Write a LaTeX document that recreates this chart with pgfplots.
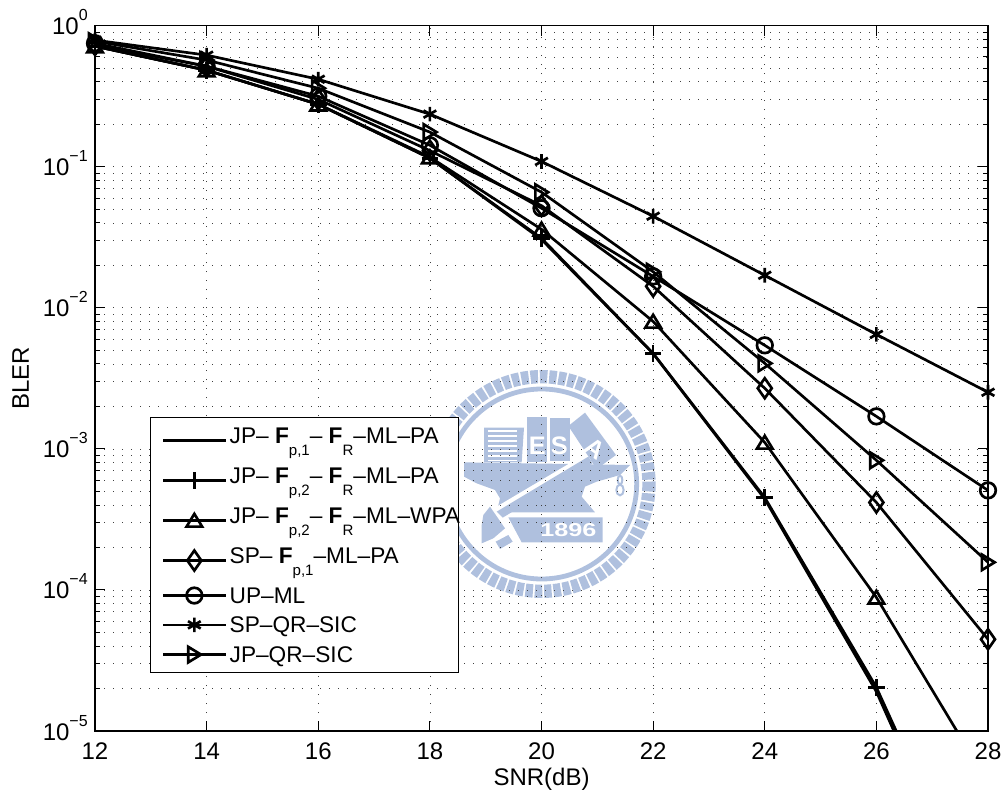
\documentclass[border=0pt]{standalone}
\usepackage{fontspec}
\setmainfont{Liberation Sans}
\usepackage{pgfplots}
\pgfplotsset{compat=1.18}
\definecolor{logo}{HTML}{AFC0DE}
\pgfdeclareplotmark{mtri}{\pgfpathmoveto{\pgfqpoint{0pt}{5pt}}\pgfpathlineto{\pgfqpoint{5.85pt}{-4.6pt}}\pgfpathlineto{\pgfqpoint{-5.85pt}{-4.6pt}}\pgfpathclose\pgfusepathqstroke}
\pgfdeclareplotmark{mrtri}{\pgfpathmoveto{\pgfqpoint{5pt}{0pt}}\pgfpathlineto{\pgfqpoint{-4.6pt}{5.85pt}}\pgfpathlineto{\pgfqpoint{-4.6pt}{-5.85pt}}\pgfpathclose\pgfusepathqstroke}
\pgfdeclareplotmark{mdia}{\pgfpathmoveto{\pgfqpoint{0pt}{7.5pt}}\pgfpathlineto{\pgfqpoint{5.25pt}{0pt}}\pgfpathlineto{\pgfqpoint{0pt}{-7.5pt}}\pgfpathlineto{\pgfqpoint{-5.25pt}{0pt}}\pgfpathclose\pgfusepathqstroke}
\newcommand{\sub}[1]{\raisebox{-0.49em}{\fontsize{11.3}{12}\selectfont #1}}
\newcommand{\rowh}[2]{\rule[-#2]{0pt}{\dimexpr #1+#2\relax}}
\newcommand{\tenp}[1]{10\raisebox{10.5pt}{\fontsize{12}{12}\selectfont #1}}
\begin{document}
\begin{tikzpicture}
\useasboundingbox (0,0) rectangle (753.75pt,597pt);
\begin{scope}[x=0.25pt,y=-0.25pt,shift={(337.5pt,323.25pt)}]
\fill[logo] (42,292)--(540,300)--(510,330)--(440,350)--(405,365)--(395,395)--(435,442)--(140,442)--(150,400)--(135,375)--(80,355)--(42,335)--cycle;
\draw[white,line width=7pt] (125,450)--(425,272);
\fill[logo] (140,440)--(415,275)--(428,295)--(158,458)--cycle;
\fill[logo] (120,425)--(165,490)--(130,520)--(95,535)--(95,480)--(100,450)--cycle;
\fill[logo] (137,530)--(175,510)--(188,530)--(150,552)--cycle;
\fill[logo] (175,457)--(458,457)--(458,532)--(215,532)--cycle;
\node[text=white,font=\bfseries\fontsize{14}{14}\selectfont,xscale=1.35] at (355,494) {1896};
\fill[logo] (102,188)--(222,188)--(215,292)--(102,292)--cycle;
\foreach \yy in {198,213,228,243,258,273,287}{\draw[white,line width=0.8pt] (115,\yy)--(202,\yy);}
\fill[logo] (230,155)--(290,155)--(290,292)--(230,292)--cycle;
\fill[logo] (300,160)--(360,160)--(360,288)--(300,288)--cycle;
\node[text=white,font=\bfseries\fontsize{19}{19}\selectfont] at (262,242) {E};
\node[text=white,font=\bfseries\fontsize{19}{19}\selectfont] at (328,242) {S};
\fill[logo] (405,143)--(498,270)--(440,312)--(355,183)--cycle;
\node[text=white,font=\bfseries\fontsize{19}{19}\selectfont,rotate=-35] at (435,250) {A};
\draw[logo,line width=1.5pt] (510,345) ellipse (7 and 13) (510,375) ellipse (11 and 16);
\draw[logo,line width=3.6pt] (275,357) circle (285);
\draw[logo,line width=10pt,dash pattern=on 5.6pt off 1.4pt] (275,357) circle (322);
\end{scope}
\begin{semilogyaxis}[
  at={(71.25pt,48.75pt)},anchor=south west,
  scale only axis,width=669.75pt,height=529pt,
  xmin=12,xmax=28,ymin=1e-5,ymax=1,
  xtick={12,14,...,28},
  ytickten={-5,-4,-3,-2,-1,0},
  yticklabels={\tenp{−5},\tenp{−4},\tenp{−3},\tenp{−2},\tenp{−1},\tenp{0}},
  /pgf/number format/assume math mode=true,
  tick label style={font=\fontsize{18}{20}\selectfont},
  label style={font=\fontsize{18}{20}\selectfont},
  xlabel={SNR(dB)},ylabel={BLER},
  xlabel style={at={(axis description cs:0.5,0)},anchor=base,yshift=-41pt},
  ylabel style={at={(axis description cs:0,0.5)},anchor=base,yshift=49.5pt},
  xticklabel style={anchor=base,inner sep=0pt,yshift=-21pt},
  yticklabel style={anchor=base east,inner sep=0pt,xshift=-5.25pt,yshift=-6.75pt},
  tick align=inside,
  major tick length=7.5pt,minor tick length=3.75pt,
  tick style={black,line width=0.7pt},
  axis line style={line width=0.9pt},
  xmajorgrids,ymajorgrids,yminorgrids,
  major grid style={black!75,line width=0.5pt,dash pattern=on 0.6pt off 6.15pt},
  minor grid style={black!75,line width=0.5pt,dash pattern=on 0.6pt off 6.15pt},
  legend cell align=left,
  legend style={at={(axis description cs:0.0616,0.445)},anchor=north west,draw=black,line width=0.9pt,fill=white,
    font=\fontsize{17}{18}\selectfont,inner xsep=4pt,inner ysep=2.1pt,row sep=0pt,
    nodes={inner xsep=2pt,inner ysep=0pt,text depth={},text height={}}},
  legend image code/.code={\path (0pt,0pt); \draw[mark repeat=2,mark phase=2,#1] plot coordinates {(4.3pt,0pt) (27.8pt,0pt) (51.3pt,0pt)};},
  every axis plot/.append style={black,line width=2pt,line join=miter},
  mark options={solid,line width=2pt},
]
\addplot[mark=none] coordinates {(12,0.715) (14,0.483) (16,0.277) (18,0.115) (20,0.0305) (22,0.00474) (24,0.000441) (26,1.9e-5) (28,3.2e-7)};
\addlegendentry{\rowh{17.6pt}{12.4pt}JP– \textbf{F}\sub{p,1}– \textbf{F}\sub{R}–ML–PA}
\addplot[mark=+,mark size=6.2pt,mark options={solid}] coordinates {(12,0.715) (14,0.483) (16,0.277) (18,0.115) (20,0.0311) (22,0.00475) (24,0.000452) (26,2.04e-5) (28,3.7e-7)};
\addlegendentry{\rowh{17.6pt}{12.4pt}JP– \textbf{F}\sub{p,2}– \textbf{F}\sub{R}–ML–PA}
\addplot[mark=mtri,mark options={solid}] coordinates {(12,0.715) (14,0.483) (16,0.277) (18,0.117) (20,0.036) (22,0.0080) (24,0.00111) (26,8.85e-5) (28,4.3e-6)};
\addlegendentry{\rowh{17.6pt}{12.4pt}JP– \textbf{F}\sub{p,2}– \textbf{F}\sub{R}–ML–WPA\kern-7.1pt\relax}
\addplot[mark=mdia,mark options={solid}] coordinates {(12,0.73) (14,0.515) (16,0.30) (18,0.13) (20,0.053) (22,0.0142) (24,0.00269) (26,0.000417) (28,4.47e-5)};
\addlegendentry{\rowh{17.6pt}{12.4pt}SP– \textbf{F}\sub{p,1}–ML–PA}
\addplot[mark=o,mark size=5.85pt,mark options={solid}] coordinates {(12,0.75) (14,0.516) (16,0.316) (18,0.142) (20,0.0508) (22,0.0167) (24,0.00542) (26,0.0017) (28,0.000508)};
\addlegendentry{\rowh{16.85pt}{5.65pt}UP–ML}
\addplot[mark=asterisk,mark size=5.5pt,mark options={solid}] coordinates {(12,0.79) (14,0.618) (16,0.417) (18,0.236) (20,0.109) (22,0.0446) (24,0.0170) (26,0.00648) (28,0.00252)};
\addlegendentry{\rowh{16.35pt}{5.15pt}SP–QR–SIC}
\addplot[mark=mrtri,mark options={solid}] coordinates {(12,0.776) (14,0.57) (16,0.36) (18,0.176) (20,0.066) (22,0.018) (24,0.00404) (26,0.00083) (28,0.000157)};
\addlegendentry{\rowh{17.15pt}{5.95pt}JP–QR–SIC}
\end{semilogyaxis}
\end{tikzpicture}
\end{document}
